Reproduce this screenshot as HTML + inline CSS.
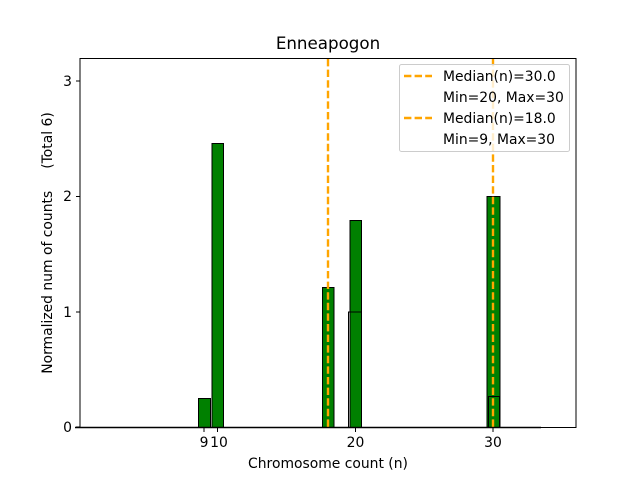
<!DOCTYPE html>
<html><head><style>body{margin:0;background:#fff}svg{display:block}text{font-family:"DejaVu Sans","Liberation Sans",sans-serif;fill:#000}</style></head><body>
<svg width="640" height="480" viewBox="0 0 640 480">
<rect width="640" height="480" fill="#fff"/>
<g stroke="#000" stroke-width="1" fill="#008000">
<rect x="198.5" y="398.5" width="12" height="29"/>
<rect x="212" y="143.5" width="11.5" height="284"/>
<rect x="322.5" y="287.5" width="11.5" height="140"/>
<rect x="350" y="220.5" width="11.5" height="207"/>
<rect x="487" y="196.5" width="13" height="231"/>
<rect x="348.5" y="312" width="13" height="115.5" fill="none"/>
<rect x="488.5" y="396.5" width="11" height="31" fill="none"/>
</g>
<line x1="75" y1="427.5" x2="541" y2="427.5" stroke="#000" stroke-width="1.5"/>
<g stroke="#ffa500" stroke-width="2.4" stroke-dasharray="7.4,3.2">
<line x1="328" y1="59" x2="328" y2="427"/>
<line x1="493" y1="59" x2="493" y2="427"/>
</g>
<rect x="80" y="58.5" width="496" height="369" fill="none" stroke="#000" stroke-width="1"/>
<g stroke="#000">
<line x1="76" y1="427" x2="80" y2="427"/><line x1="76" y1="312" x2="80" y2="312"/><line x1="76" y1="196.5" x2="80" y2="196.5"/><line x1="76" y1="81" x2="80" y2="81"/>
<line x1="204" y1="428" x2="204" y2="432"/><line x1="217.5" y1="428" x2="217.5" y2="432"/><line x1="355.5" y1="428" x2="355.5" y2="432"/><line x1="493" y1="428" x2="493" y2="432"/>
</g>
<g font-size="13.9" text-anchor="end">
<text x="72" y="432">0</text><text x="72" y="317">1</text><text x="72" y="201">2</text><text x="72" y="86">3</text>
</g>
<g font-size="13.9" text-anchor="middle">
<text x="204" y="447">9</text><text x="219" y="447">10</text><text x="355.5" y="447">20</text><text x="493" y="447">30</text>
<text x="328" y="468">Chromosome count (n)</text>
<text x="328" y="49" font-size="16.7">Enneapogon</text>
</g>
<text transform="translate(52,243) rotate(-90)" font-size="13.9" text-anchor="middle" xml:space="preserve">Normalized num of counts     (Total 6)</text>
<rect x="399.5" y="64.5" width="170" height="87" rx="2" fill="#fff" fill-opacity="0.8" stroke="#ccc"/>
<g stroke="#ffa500" stroke-width="2.4" stroke-dasharray="7.4,3.2"><line x1="404" y1="76" x2="432" y2="76"/><line x1="404" y1="118" x2="432" y2="118"/></g>
<g font-size="13.9"><text x="443" y="81">Median(n)=30.0</text><text x="443" y="102">Min=20, Max=30</text><text x="443" y="123">Median(n)=18.0</text><text x="443" y="144">Min=9, Max=30</text></g>
</svg>
</body></html>
